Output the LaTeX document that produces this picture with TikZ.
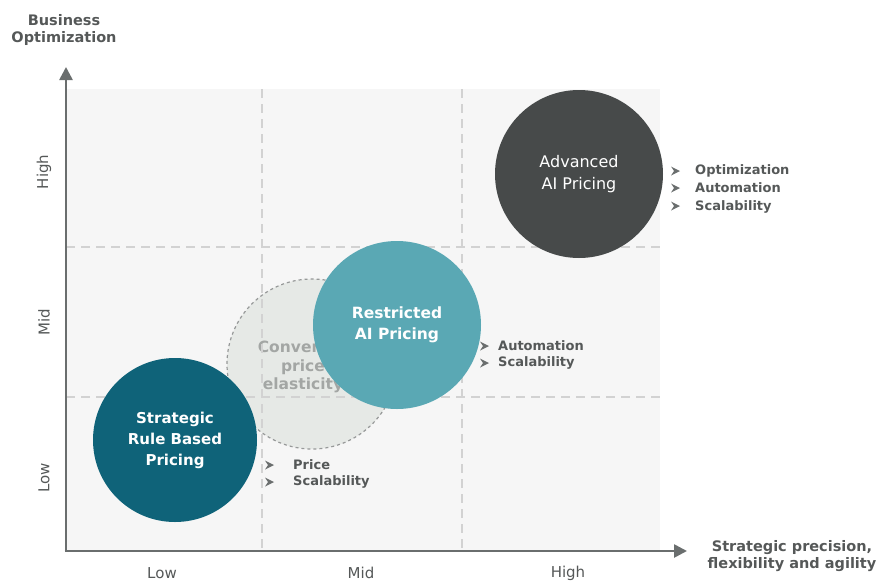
\documentclass[tikz,border=0pt]{standalone}
\usepackage{fontspec}
\setmainfont{DejaVu Sans}
\usetikzlibrary{arrows.meta}
\definecolor{axisc}{HTML}{6A6E6E}
\definecolor{panelc}{HTML}{F6F6F6}
\definecolor{gridc}{HTML}{D2D2D2}
\definecolor{txtc}{HTML}{555858}
\definecolor{darkc}{HTML}{474A4A}
\definecolor{tealc}{HTML}{5AA8B4}
\definecolor{navyc}{HTML}{0F6379}
\definecolor{convc}{HTML}{E6E9E6}
\definecolor{convt}{HTML}{A3A6A4}
\tikzset{
  axisline/.style={draw=axisc, line width=2.6pt, -{Triangle[length=13pt,width=13pt]}},
  gridline/.style={draw=gridc, line width=1.3pt, dash pattern=on 9pt off 6pt},
  bigcircle/.style={circle, inner sep=0pt, align=center, text=white, font=\fontsize{16}{22}\selectfont},
  axlabel/.style={text=txtc, align=center, font=\bfseries\fontsize{14.5}{17.5}\selectfont},
  ticklabel/.style={text=txtc, font=\fontsize{15}{17}\selectfont},
  bullettext/.style={text=txtc, anchor=west, align=left, font=\bfseries\fontsize{13}{17}\selectfont, inner sep=0pt},
  chev/.style={fill=axisc}
}
\newcommand{\chevron}[2]{\fill[chev] (#1,#2) -- ++(-9,-4.5) -- ++(3,4.5) -- ++(-3,4.5) -- cycle;}
\begin{document}
\begin{tikzpicture}[x=1pt,y=-1pt]
\useasboundingbox (0,0) rectangle (879,582);
% panel
\fill[panelc] (66,89) rectangle (660,551);
% converted circle
\node[circle, minimum size=170pt, fill=convc, draw=axisc!70, dashed, line width=1.2pt] (conv) at (312,364) {};
\node[text=convt, align=center, font=\bfseries\fontsize{15.5}{18.5}\selectfont] (convtext) at (303,367) {Converted\\price\\elasticity};
% grid
\coordinate (v1t) at (262,89); \coordinate (v1b) at (262,551);
\coordinate (v2t) at (462,89); \coordinate (v2b) at (462,551);
\coordinate (h1l) at (66,247); \coordinate (h1r) at (660,247);
\coordinate (h2l) at (66,397); \coordinate (h2r) at (660,397);
\draw[gridline] (v1t) -- (v1b);
\draw[gridline] (v2t) -- (v2b);
\draw[gridline] (h1l) -- (h1r);
\draw[gridline] (h2l) -- (h2r);
% circles
\node[bigcircle, minimum size=168pt, fill=darkc] (adv) at (579,174) {Advanced\\AI Pricing};
\node[bigcircle, minimum size=168pt, fill=tealc, font=\bfseries\fontsize{15.5}{21}\selectfont] (restr) at (397,325) {Restricted\\AI Pricing};
\node[bigcircle, minimum size=164pt, fill=navyc, font=\bfseries\fontsize{15}{21}\selectfont] (strat) at (175,440) {Strategic\\Rule Based\\Pricing};
% axes
\coordinate (origin) at (66,551);
\coordinate (ytip) at (66,67);
\coordinate (xtip) at (687,551);
\draw[axisline] (origin) -- (ytip);
\draw[axisline] ([xshift=-1.3pt]origin) -- (xtip);
% axis labels
\node[axlabel] (ylab) at (64,30) {Business\\Optimization};
\node[axlabel] (xlab) at (792,556) {Strategic precision,\\flexibility and agility};
\node[ticklabel] (xlow) at (162,573) {Low};
\node[ticklabel] (xmid) at (361,573) {Mid};
\node[ticklabel] (xhigh) at (568,573) {High};
\node[ticklabel, rotate=90] (yhigh) at (44,172) {High};
\node[ticklabel, rotate=90] (ymid) at (44,322) {Mid};
\node[ticklabel, rotate=90] (ylow) at (44,478) {Low};
% bullets
\chevron{274}{465}\chevron{274}{482}
\node[bullettext] (b1) at (293,465) {Price};
\node[bullettext] (b2) at (293,482) {Scalability};
\chevron{489}{346}\chevron{489}{363}
\node[bullettext] (b3) at (498,346) {Automation};
\node[bullettext] (b4) at (498,363) {Scalability};
\chevron{680}{171}\chevron{680}{188}\chevron{680}{206}
\node[bullettext] (b5) at (695,171) {Optimization};
\node[bullettext] (b6) at (695,188) {Automation};
\node[bullettext] (b7) at (695,207) {Scalability};
\end{tikzpicture}
\end{document}
